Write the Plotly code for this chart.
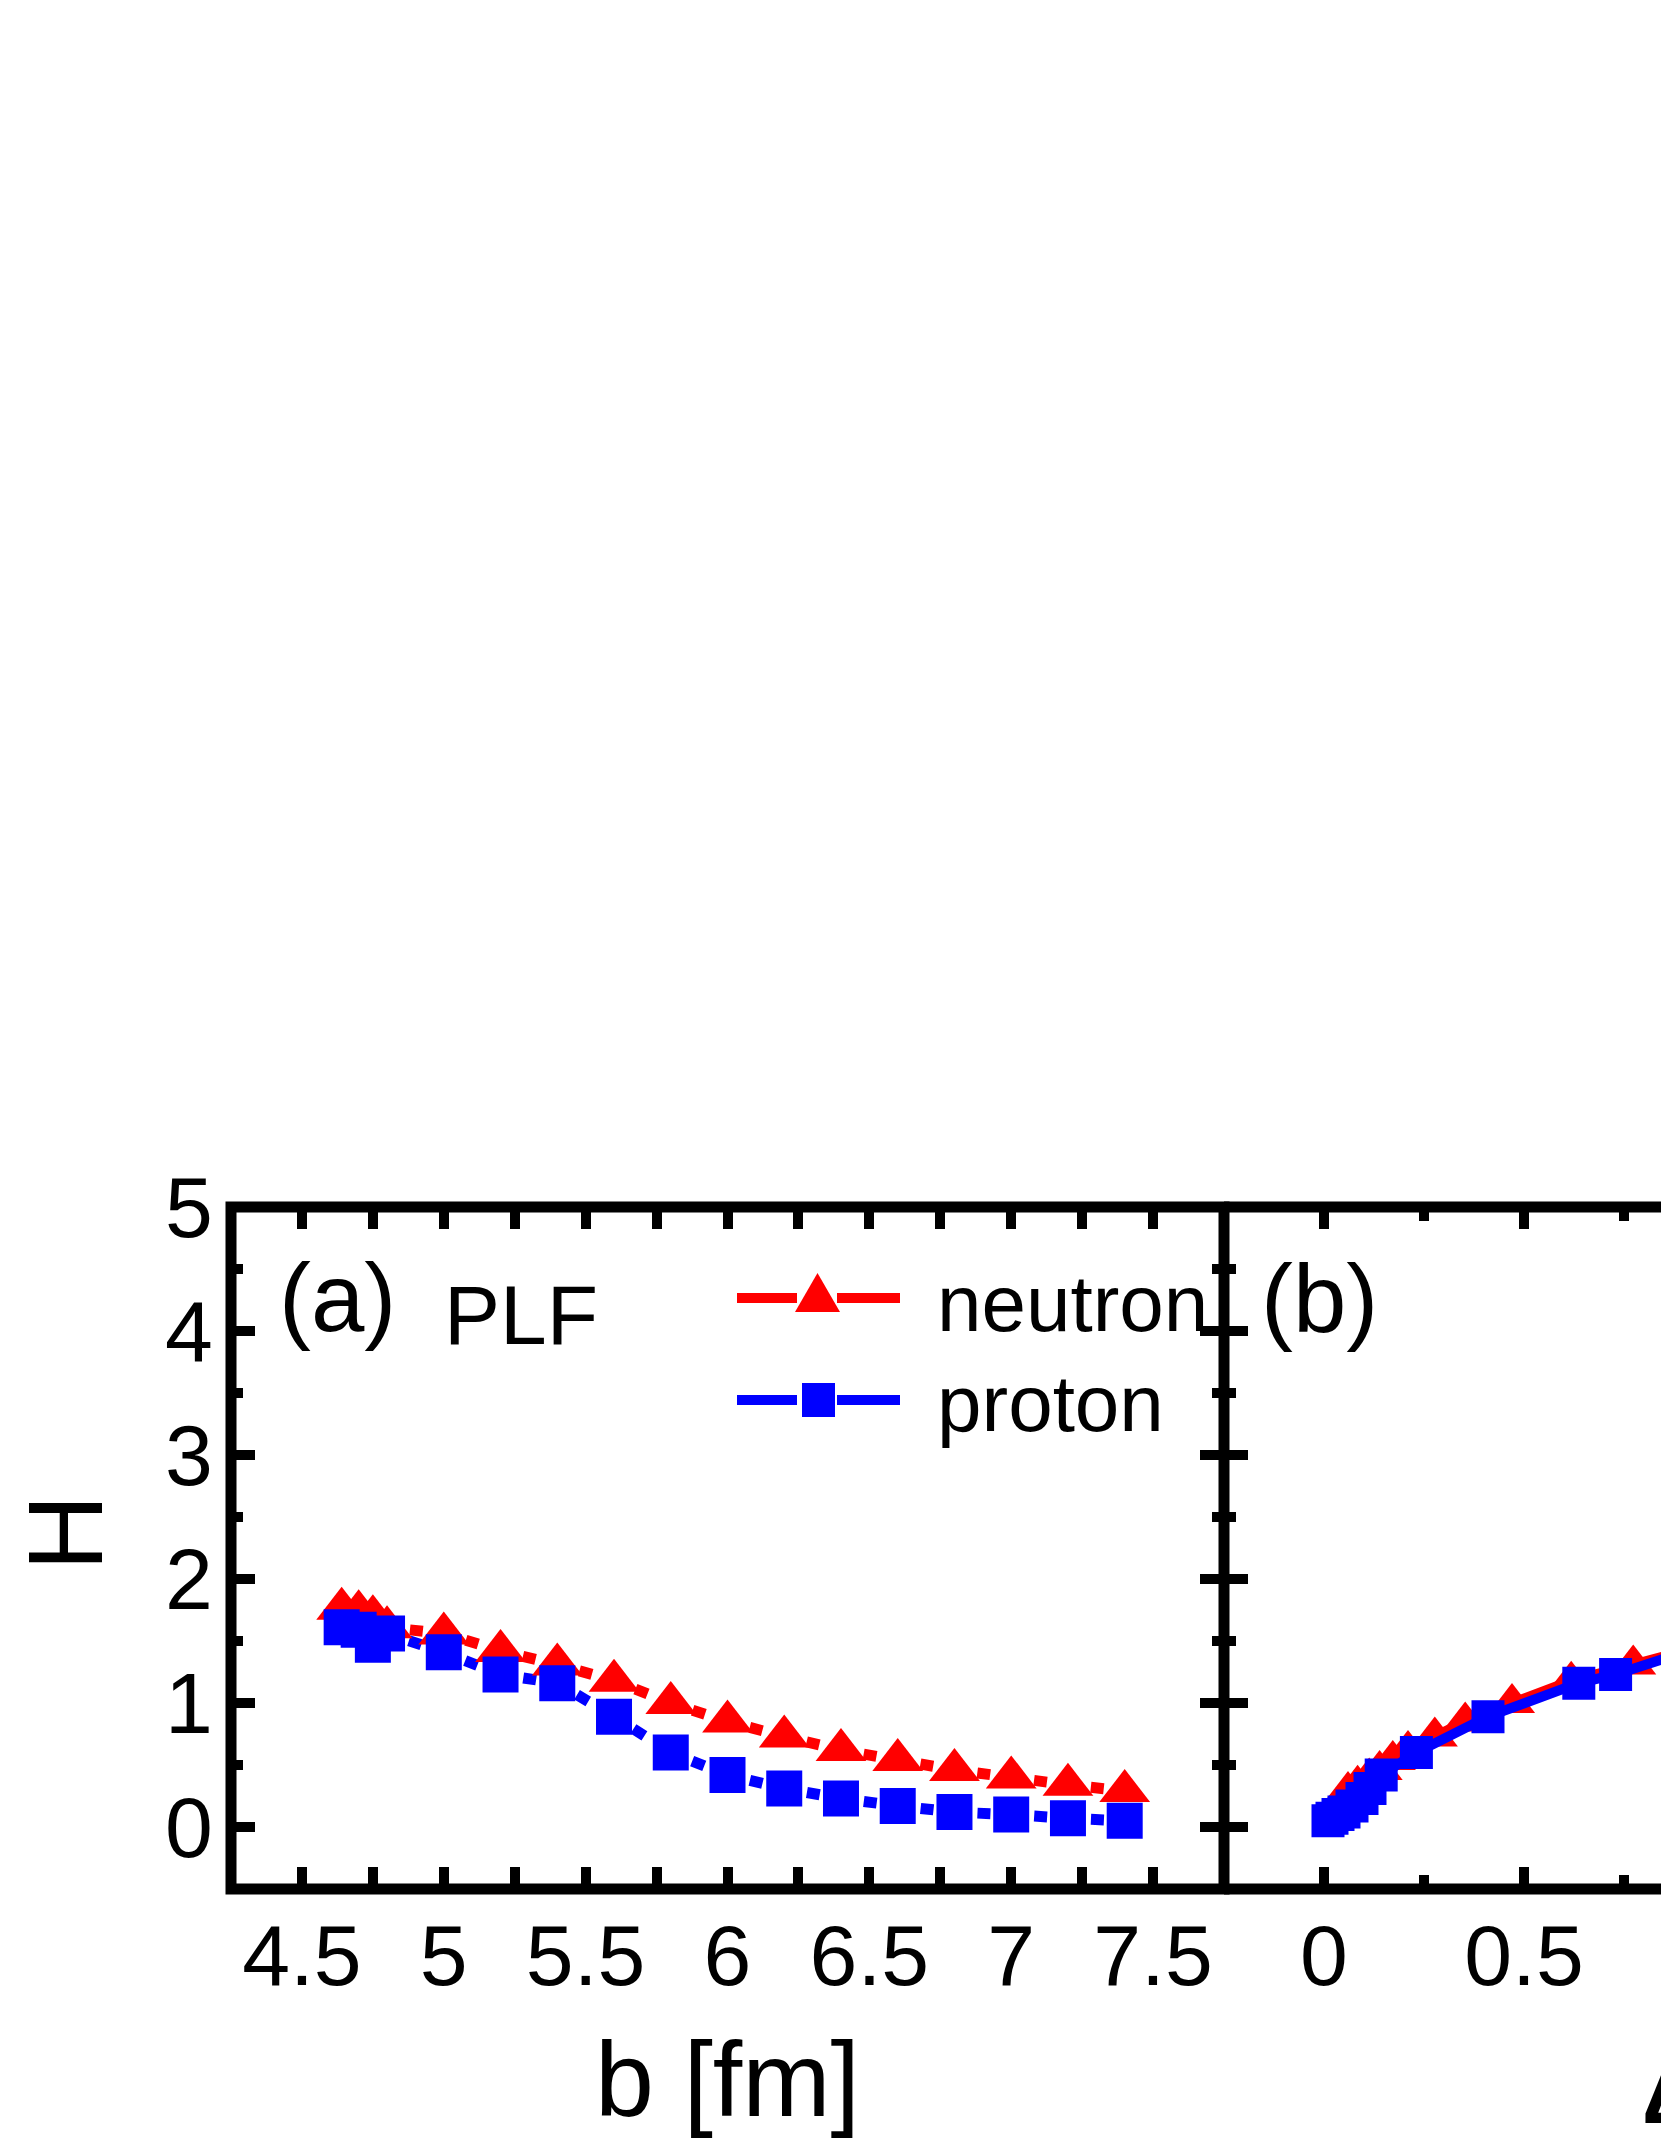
import plotly.graph_objects as go

# panel (a): H against impact parameter b
b_fm = [4.64, 4.70, 4.75, 4.80, 5.0, 5.2, 5.4, 5.6, 5.8, 6.0, 6.2, 6.4, 6.6, 6.8, 7.0, 7.2, 7.4]
H_neutron = [1.76, 1.74, 1.70, 1.61, 1.56, 1.42, 1.31, 1.18, 1.00, 0.85, 0.73, 0.62, 0.54, 0.46, 0.40, 0.34, 0.29]
H_proton = [1.61, 1.59, 1.47, 1.56, 1.41, 1.23, 1.16, 0.89, 0.60, 0.42, 0.31, 0.23, 0.17, 0.12, 0.10, 0.07, 0.05]

# panel (b): same H values against the (cropped) bottom-axis quantity
xb_neutron = [0.06, 0.084, 0.113, 0.139, 0.172, 0.21, 0.277, 0.353, 0.47, 0.618, 0.773, 0.90]
Hb_neutron = [0.29, 0.34, 0.40, 0.46, 0.54, 0.62, 0.73, 0.85, 1.00, 1.18, 1.31, 1.42]
xb_proton = [0.01, 0.02, 0.035, 0.05, 0.07, 0.095, 0.115, 0.143, 0.231, 0.41, 0.637, 0.729, 0.90]
Hb_proton = [0.05, 0.07, 0.10, 0.12, 0.17, 0.23, 0.31, 0.42, 0.60, 0.89, 1.16, 1.23, 1.41]

xticks_a = [4.5, 5, 5.5, 6, 6.5, 7, 7.5]
xticks_b = [0, 0.5]
yticks = [0, 1, 2, 3, 4, 5]

RED = "#FF0000"
BLUE = "#0000FF"
FONT = "Liberation Sans, Arial, sans-serif"
W, HT = 1661, 2149


def px(x):
    return x / W


def py(y):
    return (HT - y) / HT


fig = go.Figure()

# panel (a): dotted connecting lines, one dot per gap (pattern restarted at each point)
for xs, ys, col in [(b_fm, H_neutron, RED), (b_fm, H_proton, BLUE)]:
    for i in range(len(xs) - 1):
        fig.add_trace(go.Scatter(
            x=xs[i:i + 2], y=ys[i:i + 2], mode="lines", xaxis="x", yaxis="y",
            line=dict(color=col, width=11, dash="0px,23px,13px,300px"),
            showlegend=False, hoverinfo="skip"))

fig.add_trace(go.Scatter(x=b_fm, y=H_neutron, mode="markers", xaxis="x", yaxis="y",
                         marker=dict(symbol="triangle-up", size=44, color=RED),
                         name="neutron", showlegend=False))
fig.add_trace(go.Scatter(x=b_fm, y=H_proton, mode="markers", xaxis="x", yaxis="y",
                         marker=dict(symbol="square", size=36, color=BLUE),
                         name="proton", showlegend=False))

# panel (b)
fig.add_trace(go.Scatter(x=xb_neutron, y=Hb_neutron, mode="lines+markers", xaxis="x2", yaxis="y2",
                         line=dict(color=RED, width=10),
                         marker=dict(symbol="triangle-up", size=40, color=RED),
                         showlegend=False))
fig.add_trace(go.Scatter(x=xb_proton, y=Hb_proton, mode="lines+markers", xaxis="x2", yaxis="y2",
                         line=dict(color=BLUE, width=10),
                         marker=dict(symbol="square", size=33, color=BLUE),
                         showlegend=False))

tick_common = dict(ticks="inside", tickwidth=10, tickcolor="black", showgrid=False,
                   zeroline=False, showline=True, linewidth=1, linecolor="black",
                   tickfont=dict(family=FONT, size=86, color="black"), automargin=False)

fig.update_layout(
    width=W, height=HT, template="none",
    paper_bgcolor="white", plot_bgcolor="white",
    margin=dict(l=0, r=0, t=0, b=0),
    showlegend=False,
    xaxis=dict(domain=[px(231), px(1224)], range=[4.25, 7.75], anchor="y",
               tickvals=xticks_a, ticktext=[f"{v:g}" for v in xticks_a],
               ticklen=22, mirror="ticks", ticklabelstandoff=-8,
               minor=dict(dtick=0.25, tick0=4.5, ticks="inside", ticklen=22,
                          tickwidth=10, tickcolor="black", showgrid=False),
               **tick_common),
    yaxis=dict(domain=[py(1889), py(1207)], range=[-0.5, 5], anchor="x",
               tickvals=yticks, ticklen=24, mirror="ticks", ticklabelstandoff=0,
               minor=dict(dtick=0.5, tick0=0, ticks="inside", ticklen=12,
                          tickwidth=10, tickcolor="black", showgrid=False),
               **tick_common),
    xaxis2=dict(domain=[px(1224), 1.0], range=[-0.25, -0.25 + 437 / 400], anchor="y2",
                tickvals=xticks_b, ticktext=["0", "0.5"],
                ticklen=22, mirror="ticks", ticklabelstandoff=-8,
                minor=dict(dtick=0.25, tick0=0, ticks="inside", ticklen=14,
                           tickwidth=10, tickcolor="black", showgrid=False),
                **tick_common),
    yaxis2=dict(domain=[py(1889), py(1207)], range=[-0.5, 5], anchor="x2",
                tickvals=yticks, ticklen=24, showticklabels=False,
                minor=dict(dtick=0.5, tick0=0, ticks="inside", ticklen=12,
                           tickwidth=10, tickcolor="black", showgrid=False),
                **tick_common),
)

# thick frame
shapes = [
    dict(type="rect", xref="x domain", yref="y domain", x0=0, x1=1, y0=0, y1=1,
         line=dict(color="black", width=11)),
    dict(type="line", xref="x2 domain", yref="y2 domain", x0=0, x1=1.02, y0=1, y1=1,
         line=dict(color="black", width=11)),
    dict(type="line", xref="x2 domain", yref="y2 domain", x0=0, x1=1.02, y0=0, y1=0,
         line=dict(color="black", width=11)),
]

# hand-drawn legend (line - symbol - line)
for yrow, col in [(1298, RED), (1400, BLUE)]:
    for xa, xb in [(737, 797), (837, 900)]:
        shapes.append(dict(type="line", xref="paper", yref="paper",
                           x0=px(xa), x1=px(xb), y0=py(yrow), y1=py(yrow),
                           line=dict(color=col, width=10)))
shapes.append(dict(type="path", xref="paper", yref="paper",
                   path=f"M{px(795)},{py(1312)} L{px(840)},{py(1312)} L{px(817.5)},{py(1273)} Z",
                   fillcolor=RED, line=dict(width=0)))
shapes.append(dict(type="rect", xref="paper", yref="paper",
                   x0=px(802), x1=px(835), y0=py(1417), y1=py(1383),
                   fillcolor=BLUE, line=dict(width=0)))
fig.update_layout(shapes=shapes)


def txt(s, x, y, size, xanchor="center", angle=0):
    fig.add_annotation(text=s, x=x, y=y, xref="paper", yref="paper", showarrow=False,
                       xanchor=xanchor, yanchor="middle", textangle=angle,
                       font=dict(family=FONT, size=size, color="black"))


txt("(a)", px(337), py(1297), 96)
txt("PLF", px(442), py(1315), 84, xanchor="left")
txt("(b)", px(1319), py(1298), 96)
txt("neutron", px(935), py(1303), 80, xanchor="left")
txt("proton", px(935), py(1403), 80, xanchor="left")
txt("b [fm]", px(727), py(2079), 106)
txt("H", px(65), py(1533), 106, angle=-90)
txt("<b>Δ</b>", px(1640), py(2093), 85, xanchor="left")

# drop the default page margin so the figure sits at the window's top-left corner
fig.write_html("out.html", config={"displayModeBar": False},
               post_script="document.body.style.margin='0px';")
